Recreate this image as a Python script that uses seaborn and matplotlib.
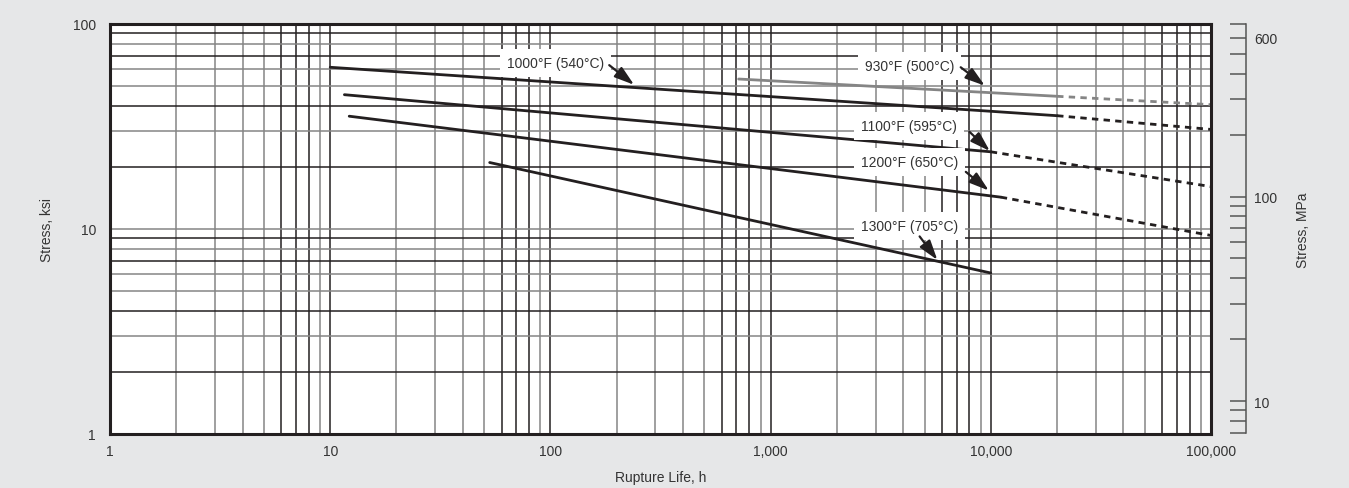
import numpy as np
import pandas as pd
import matplotlib.pyplot as plt
import seaborn as sns

# STEP 1: THEME
sns.set_style("white")
plt.rcParams['font.family'] = ['Liberation Sans', 'DejaVu Sans']

# STEP 2: DATA
temps = ["930°F (500°C)", "1000°F (540°C)", "1100°F (595°C)", "1200°F (650°C)", "1300°F (705°C)"]

# solid (measured) part of each curve: rupture life [h], stress [ksi]
solid_life = [[716, 20000], [10, 20000], [11.6, 10000], [12.2, 11100], [53, 10000]]
solid_stress = [[53.9, 44.4], [61.5, 35.7], [45.2, 23.8], [35.5, 14.3], [21.1, 6.1]]

# dashed (extrapolated) part
dash_life = [[20000, 100000], [20000, 100000], [10000, 100000], [11100, 100000], []]
dash_stress = [[44.4, 40.4], [35.7, 30.6], [23.8, 16.1], [14.3, 9.3], []]

x_ticks = [1, 10, 100, 1000, 10000, 100000]
x_tick_labels = ['1', '10', '100', '1,000', '10,000', '100,000']
y_ticks = [1, 10, 100]
y_tick_labels = ['1', '10', '100']
mpa_major = [10, 100, 600]
mpa_minor = [7, 8, 9, 20, 30, 40, 50, 60, 70, 80, 90, 200, 300, 400, 500, 700]
KSI_TO_MPA = 6.895

# label text centre, arrow tail, arrow tip (data coords)
label_pos = [(4260, 62.4), (105, 64.5), (4260, 31.8), (4260, 21.2), (4260, 10.3)]
arrow_tail = [(7300, 61.5), (185, 63.0), (8000, 29.8), (7700, 19.0), (4750, 9.2)]
arrow_tip = [(9400, 50.0), (240, 50.5), (9900, 24.0), (9800, 15.4), (5720, 7.06)]

rows = []
for t, xs, ys in zip(temps, solid_life, solid_stress):
    for x, y in zip(xs, ys):
        rows.append({'temp': t, 'part': 'solid', 'life': x, 'stress': y})
for t, xs, ys in zip(temps, dash_life, dash_stress):
    for x, y in zip(xs, ys):
        rows.append({'temp': t, 'part': 'dashed', 'life': x, 'stress': y})
df = pd.DataFrame(rows)

# STEP 3: FIGURE
BLACK = '#231f20'
GRAY = '#858585'
fig = plt.figure(figsize=(13.49, 4.89), dpi=100, facecolor='#e6e7e8')
ax = fig.add_axes([110 / 1349, 1 - 435 / 489, 1101 / 1349, 410 / 489])
ax.set_facecolor('white')
ax.set_xscale('log')
ax.set_yscale('log')
ax.set_xlim(1, 100000)
ax.set_ylim(1, 100)

# grid, alternating dark / grey lines like the printed chart
for dec in [1, 10, 100, 1000, 10000]:
    for m in range(2, 11):
        c = BLACK if m in (6, 7, 8, 10) else GRAY
        ax.axvline(dec * m, color=c, lw=1.1, zorder=0.5)
for dec in [1, 10]:
    for m in range(2, 11):
        c = BLACK if m in (2, 4, 7, 9) else GRAY
        ax.axhline(dec * m, color=c, lw=1.1, zorder=0.5)

palette = {t: (GRAY if t.startswith('930') else BLACK) for t in temps}
sns.lineplot(data=df, x='life', y='stress', hue='temp', style='part',
             palette=palette, dashes={'solid': '', 'dashed': (2.3, 1.9)},
             linewidth=2.0, estimator=None, sort=False, legend=False, ax=ax, zorder=2)

for t, lp, tail, tip in zip(temps, label_pos, arrow_tail, arrow_tip):
    ax.text(lp[0], lp[1], t, ha='center', va='center', fontsize=10, color='#333333',
            bbox=dict(fc='white', ec='none', pad=5), zorder=3)
    ax.annotate('', xy=tip, xytext=tail,
                arrowprops=dict(arrowstyle='-|>,head_length=1.2,head_width=0.38',
                                lw=1.6, color=BLACK, shrinkA=0, shrinkB=0), zorder=4)

ax.set_xticks(x_ticks)
ax.set_xticklabels(x_tick_labels)
ax.set_yticks(y_ticks)
ax.set_yticklabels(y_tick_labels)
ax.minorticks_off()
ax.tick_params(axis='both', length=0, labelsize=10, labelcolor='#333333')
ax.tick_params(axis='x', pad=7)
ax.tick_params(axis='y', pad=10)
for s in ax.spines.values():
    s.set_color(BLACK)
    s.set_linewidth(2.2)
ax.set_xlabel('Rupture Life, h', fontsize=10, color='#333333')
ax.set_ylabel('Stress, ksi', fontsize=10, color='#333333')
ax.xaxis.set_label_coords(0.5, -0.088)
ax.yaxis.set_label_coords(-0.051, 0.5)

# STEP 4: SECONDARY MPa SCALE
ax2 = ax.twinx()
ax2.set_yscale('log')
ax2.set_ylim(1 * KSI_TO_MPA, 100 * KSI_TO_MPA)
for side in ['top', 'left', 'bottom']:
    ax2.spines[side].set_visible(False)
ax2.spines['right'].set_position(('outward', 25))
ax2.spines['right'].set_color('#555555')
ax2.spines['right'].set_linewidth(1.1)
ax2.spines['right'].set_bounds(7, 700)
ax2.set_yticks(mpa_major)
ax2.set_yticklabels([str(v) for v in mpa_major])
ax2.set_yticks(mpa_minor, minor=True)
ax2.yaxis.set_minor_formatter(plt.NullFormatter())
ax2.tick_params(axis='y', which='both', direction='in', length=11.5, width=1.1,
                color='#555555', labelsize=10, labelcolor='#333333', pad=6)
ax2.set_ylabel('Stress, MPa', fontsize=10, color='#333333')
ax2.yaxis.set_label_coords(1.077, 0.5)

plt.savefig('out.png', dpi=100, facecolor=fig.get_facecolor())
